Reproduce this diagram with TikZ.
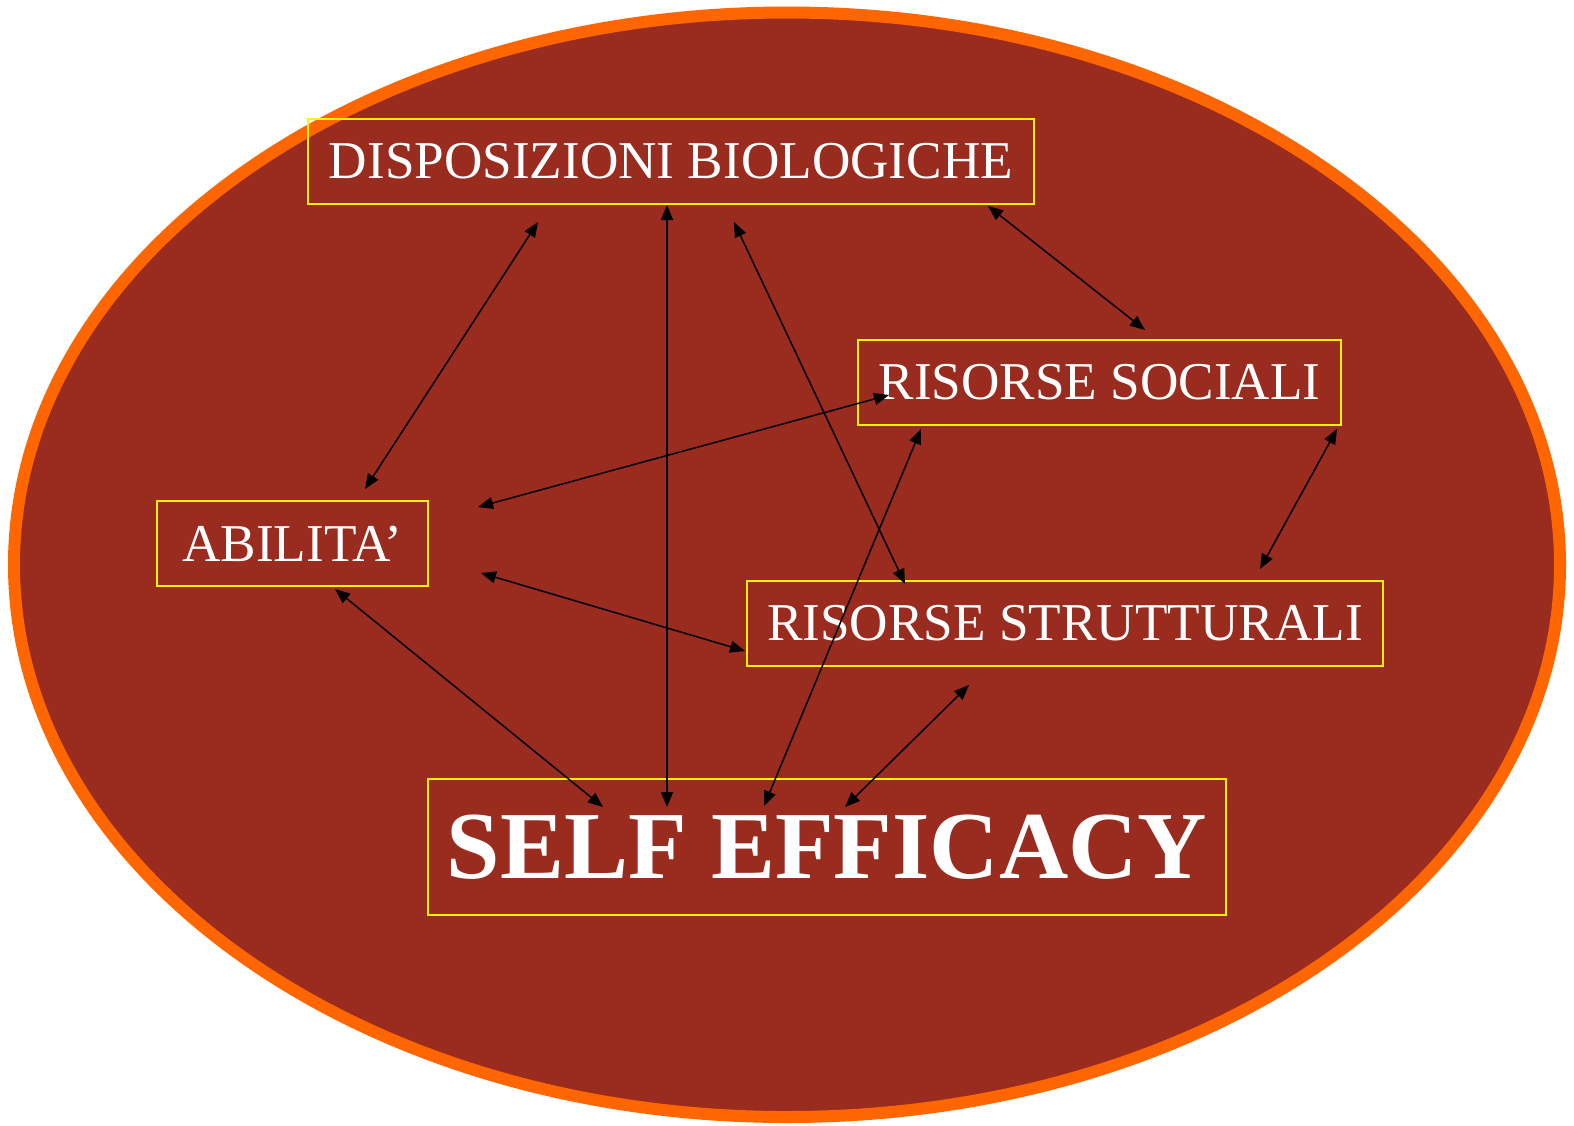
\documentclass[tikz,border=0pt]{standalone}
\usepackage{fontspec}
\setmainfont{Liberation Serif}
\usetikzlibrary{arrows.meta,calc}
\definecolor{bgred}{RGB}{153,43,31}
\definecolor{rimorange}{RGB}{255,102,0}

\begin{document}
\begin{tikzpicture}[x=0.5pt,y=0.5pt,yscale=-1,
  box/.style={draw=yellow,line width=1pt,text=white,inner sep=0pt,minimum height=42.5pt,font=\fontsize{26.6}{28}\selectfont},
  link/.style={{Triangle[length=7.5pt,width=6pt]}-{Triangle[length=7.5pt,width=6pt]},line width=0.75pt}]
\useasboundingbox (0,0) rectangle (1574,1125);

%Ellipse
\draw [rimorange,line width=6pt,fill=bgred] (787,564.75) ellipse [x radius=773,y radius=552.25];

% Text Node
\node [box,minimum width=363pt] (disp) at (671,161.5) {DISPOSIZIONI BIOLOGICHE};
% Text Node
\node [box,minimum width=241.5pt] (soc) at (1099.5,382.5) {RISORSE SOCIALI};
% Text Node
\node [box,minimum width=135.5pt] (abil) at (292.5,543.5) {ABILITA’};
% Text Node
\node [box,minimum width=318pt] (strut) at (1065,623.5) {RISORSE STRUTTURALI};
% Text Node
\node [box,minimum width=399pt,minimum height=68pt,font=\fontsize{48}{50}\selectfont\bfseries] (self) at (827,847) {SELF EFFICACY};

%Straight Lines
\draw [link] ($(disp.south)+(-133,17)$) -- ($(abil.north)+(72.5,-11)$);
\draw [link] ($(disp.south)+(-4,0)$) -- ($(self.north)+(-160,29)$);
\draw [link] ($(disp.south)+(63,17)$) -- ($(strut.north)+(-160,4)$);
\draw [link] ($(disp.south)+(317,1)$) -- ($(soc.north)+(45.5,-9)$);
%Straight Lines
\draw [link] ($(soc.west)+(32,12.5)$) -- ($(abil.east)+(49,-36.5)$);
\draw [link] ($(soc.south)+(-178.5,3)$) -- ($(self.north)+(-63,28)$);
\draw [link] ($(soc.south east)+(-5,3)$) -- ($(strut.north east)+(-124,-11)$);
%Straight Lines
\draw [link] ($(abil.east)+(52,29.5)$) -- ($(strut.west)+(-1,27.5)$);
\draw [link] ($(abil.south)+(42.5,2)$) -- ($(self.north)+(-224,29)$);
\draw [link] ($(strut.south)+(-96,18)$) -- ($(self.north)+(18,29)$);

\end{tikzpicture}
\end{document}
